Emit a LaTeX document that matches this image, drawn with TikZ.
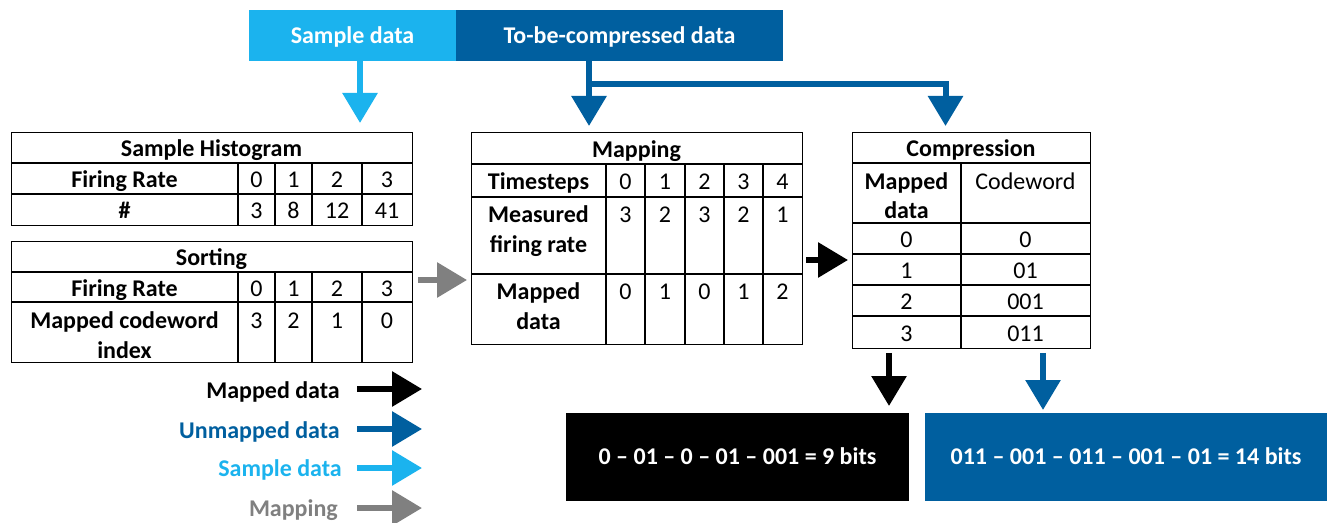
\documentclass[tikz,border=0pt]{standalone}
\usepackage{fontspec}
\setmainfont{Carlito}
\usetikzlibrary{arrows.meta}
\definecolor{skyblue}{HTML}{1BB3EE}
\definecolor{deepblue}{HTML}{005F9F}
\definecolor{midgray}{HTML}{808080}

\begin{document}
\begin{tikzpicture}[x=0.75pt,y=-0.75pt,
  txt/.style={inner sep=0pt,text height=14pt,text depth=0pt,font=\fontsize{18}{21}\selectfont},
  btxt/.style={txt,font=\fontsize{18}{21}\selectfont\bfseries},
  tbl/.style={draw=black,line width=0.9pt,inner sep=0pt,anchor=north west},
  rule/.style={draw=black,line width=0.9pt},
  fat/.style={line width=4.5pt,-{Triangle[length=22.5pt,width=25.5pt]}},
  band/.style={inner sep=0pt,text=white,font=\fontsize{18}{21}\selectfont\bfseries,text height=11.5pt,text depth=0pt},
]
\useasboundingbox (0,0) rectangle (1333,523);

% ---- input bands ----
\node[band,fill=skyblue,minimum width=155.25pt,minimum height=38.25pt] (samp) at (352.5,35.5) {Sample data};
\node[band,fill=deepblue,minimum width=245.25pt,minimum height=38.25pt] (tbc) at (619.5,35.5) {To-be-compressed data};

% ---- Sample Histogram ----
\node[tbl,minimum width=300.75pt,minimum height=69.75pt] (hist) at (11,132) {};
\draw[rule] (11,163) -- (412,163) (11,194) -- (412,194);
\draw[rule] (238,163) -- (238,225) (275,163) -- (275,225) (312,163) -- (312,225) (362,163) -- (362,225);
\node[btxt] (h-title) at (211.5,147.5) {Sample Histogram};
\node[btxt] (h-fr) at (124.5,178.5) {Firing Rate};
\node[btxt] (h-n) at (124.5,209.5) {\#};
\foreach \x/\v [count=\i] in {256.5/0,293.5/1,337/2,387/3}
  \node[txt] (h-r\i) at (\x,178.5) {\v};
\foreach \x/\v [count=\i] in {256.5/3,293.5/8,337/12,387/41}
  \node[txt] (h-c\i) at (\x,209.5) {\v};

% ---- Sorting ----
\node[tbl,minimum width=300.75pt,minimum height=90.75pt] (sort) at (11,241) {};
\draw[rule] (11,272) -- (412,272) (11,302) -- (412,302);
\draw[rule] (238,272) -- (238,362) (275,272) -- (275,362) (312,272) -- (312,362) (362,272) -- (362,362);
\node[btxt] (s-title) at (211.5,256.5) {Sorting};
\node[btxt] (s-fr) at (124.5,287) {Firing Rate};
\node[btxt] (s-mc1) at (124.5,319) {Mapped codeword};
\node[btxt] (s-mc2) at (124.5,349) {index};
\foreach \x/\v [count=\i] in {256.5/0,293.5/1,337/2,387/3}
  \node[txt] (s-r\i) at (\x,287) {\v};
\foreach \x/\v [count=\i] in {256.5/3,293.5/2,337/1,387/0}
  \node[txt] (s-c\i) at (\x,319) {\v};

% ---- Mapping ----
\node[tbl,minimum width=248.25pt,minimum height=159pt] (mapt) at (471,132) {};
\draw[rule] (471,164) -- (802,164) (471,197) -- (802,197) (471,274) -- (802,274);
\foreach \x in {606,645,685,724,763}
  \draw[rule] (\x,164) -- (\x,344);
\node[btxt] (m-title) at (636.5,148) {Mapping};
\node[btxt] (m-ts) at (538.5,180.5) {Timesteps};
\node[btxt] (m-me1) at (538.5,213) {Measured};
\node[btxt] (m-me2) at (538.5,243) {firing rate};
\node[btxt] (m-md1) at (538.5,290) {Mapped};
\node[btxt] (m-md2) at (538.5,320) {data};
\foreach \x/\a/\b/\c [count=\i] in {625.5/0/3/0,665/1/2/1,704.5/2/3/0,743.5/3/2/1,782.5/4/1/2}{
  \node[txt] (m-t\i) at (\x,180.5) {\a};
  \node[txt] (m-f\i) at (\x,213) {\b};
  \node[txt] (m-d\i) at (\x,290) {\c};
}

% ---- Compression ----
\node[tbl,minimum width=178.5pt,minimum height=162pt] (comp) at (852,132) {};
\draw[rule] (852,163) -- (1090,163) (852,223) -- (1090,223) (852,254) -- (1090,254)
            (852,285) -- (1090,285) (852,316) -- (1090,316);
\draw[rule] (961,163) -- (961,348);
\node[btxt] (c-title) at (971,147.5) {Compression};
\node[btxt] (c-md1) at (906.5,180) {Mapped};
\node[btxt] (c-md2) at (906.5,209) {data};
\node[txt] (c-cw) at (1025.5,180) {Codeword};
\foreach \y/\a/\b [count=\i] in {238.5/0/0,269.5/1/01,300.5/2/001,332/3/011}{
  \node[txt] (c-a\i) at (906.5,\y) {\a};
  \node[txt] (c-b\i) at (1025.5,\y) {\b};
}

% ---- results ----
\node[band,fill=black,minimum width=257.25pt,minimum height=66pt] (bits9) at (737.5,457) {0 – 01 – 0 – 01 – 001 = 9 bits};
\node[band,fill=deepblue,minimum width=301.5pt,minimum height=66pt] (bits14) at (1126,457) {011 – 001 – 011 – 001 – 01 = 14 bits};

% ---- flow arrows ----
\coordinate (sa-end) at (360,123);
\draw[fat,skyblue] (samp.south -| sa-end) -- (sa-end);

\coordinate (tb-a) at (589,126);
\coordinate (tb-b) at (945.5,126);
\coordinate (tb-fork) at (589,84.5);
\draw[fat,deepblue] (tbc.south -| tb-a) -- (tb-a);
\draw[fat,deepblue] (tb-fork) -| (tb-b);

\coordinate (g-a) at (418,280);
\coordinate (g-b) at (467,280);
\draw[fat,midgray] (g-a) -- (g-b);

\coordinate (k-a) at (806,260);
\coordinate (k-b) at (848,260);
\draw[fat,black] (k-a) -- (k-b);

\coordinate (kd-a) at (889,353);
\coordinate (kd-b) at (889,406);
\draw[fat,black] (kd-a) -- (kd-b);

\coordinate (bd-a) at (1043,353);
\coordinate (bd-b) at (1043,410);
\draw[fat,deepblue] (bd-a) -- (bd-b);

% ---- legend ----
\node[btxt,anchor=east,text=black] (lg1) at (340,389) {Mapped data};
\node[btxt,anchor=east,text=deepblue] (lg2) at (340,429) {Unmapped data};
\node[btxt,anchor=east,text=skyblue] (lg3) at (342,467) {Sample data};
\node[btxt,anchor=east,text=midgray] (lg4) at (338,507) {Mapping};
\coordinate (la1) at (422,389);
\coordinate (la2) at (422,429);
\coordinate (la3) at (422,468);
\coordinate (la4) at (422,508);
\draw[fat,black] (357,389) -- (la1);
\draw[fat,deepblue] (357,429) -- (la2);
\draw[fat,skyblue] (357,468) -- (la3);
\draw[fat,midgray] (357,508) -- (la4);
\end{tikzpicture}
\end{document}
